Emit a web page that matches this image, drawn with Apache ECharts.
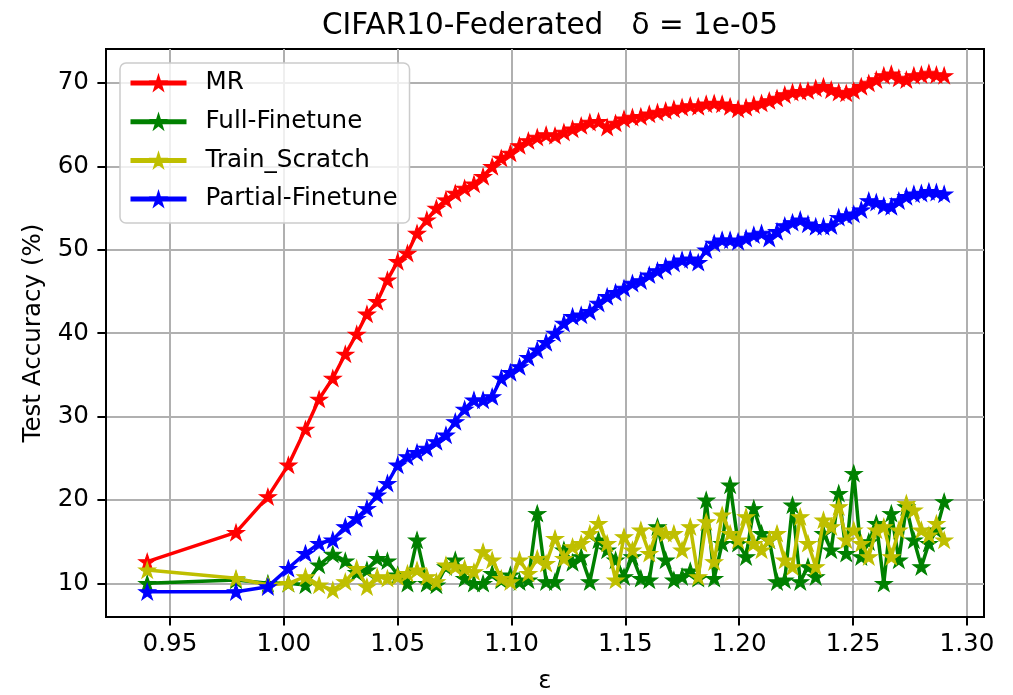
<!DOCTYPE html>
<html>
<head>
<meta charset="utf-8">
<script src="https://cdn.jsdelivr.net/npm/echarts@6/dist/echarts.min.js"></script>
<style>
  html, body { margin: 0; padding: 0; background: #fff; }
  #chart { width: 1013px; height: 695px; }
</style>
</head>
<body>
<div id="chart"></div>
<script>
// epsilon values (x)
const epsValues = [
  0.94, 0.979, 0.993, 1.002, 1.0095, 1.0155, 1.0215, 1.027, 1.032,
  1.0365, 1.041, 1.0455, 1.05,
  1.0543, 1.0585, 1.0628, 1.067, 1.0712, 1.0753, 1.0794, 1.0835, 1.0875, 1.0915, 1.0955, 1.0995,
  1.1035, 1.1074, 1.1113, 1.1152, 1.1191, 1.123, 1.1268, 1.1306, 1.1344, 1.1382, 1.142, 1.1457, 1.1494,
  1.1531, 1.1568, 1.1605, 1.1641, 1.1677, 1.1713, 1.1749, 1.1785, 1.182, 1.1855, 1.189, 1.1925, 1.196, 1.1995,
  1.203, 1.2064, 1.2098, 1.2132, 1.2166, 1.22, 1.2234, 1.2268, 1.2302, 1.2336, 1.237, 1.2404, 1.2437, 1.247,
  1.2503, 1.2536, 1.2569, 1.2602, 1.2635, 1.2668, 1.2701, 1.2734, 1.2767, 1.28, 1.2833, 1.2866, 1.29
];

const mrAcc = [
  12.6, 16.1, 20.4, 24.2, 28.5, 32.1, 34.6, 37.5, 39.9,
  42.3, 43.8, 46.4, 48.6,
  49.6, 52.0, 53.6, 55.0, 56.0, 56.8, 57.4, 57.9, 58.8, 60.0, 61.0, 61.6,
  62.5, 63.1, 63.5, 63.8, 63.7, 64.1, 64.5, 64.9, 65.3, 65.4, 64.7, 65.2, 65.7,
  65.9, 66.0, 66.3, 66.5, 66.7, 66.9, 67.1, 67.3, 67.2, 67.5, 67.6, 67.5, 67.2, 66.9,
  67.1, 67.4, 67.6, 67.9, 68.2, 68.6, 68.9, 69.0, 69.1, 69.4, 69.6, 69.2, 68.9, 68.8,
  69.1, 69.6, 70.0, 70.4, 70.9, 71.1, 70.6, 70.4, 70.9, 71.0, 71.2, 71.0, 70.9
];

const fullFinetuneAcc = [
  10.0, 10.4, 10.0, 10.0, 9.8, 12.2, 13.5, 12.7, 11.3,
  11.6, 13.0, 12.7, 11.0,
  10.0, 15.2, 10.0, 9.8, 12.0, 12.8, 10.6, 10.0, 10.0, 11.2, 10.4, 11.0,
  10.2, 10.4, 18.4, 10.2, 10.2, 14.0, 12.5, 13.2, 10.2, 15.2, 14.0, 12.8, 10.8,
  13.2, 10.6, 10.4, 16.8, 12.8, 10.4, 10.8, 11.5, 10.6, 20.0, 10.6, 14.8, 21.8, 14.8,
  13.2, 19.0, 16.0, 15.2, 10.2, 10.4, 19.4, 10.2, 12.0, 10.8, 16.0, 14.0, 20.8, 13.6,
  23.2, 13.2, 15.0, 17.2, 10.0, 18.4, 12.8, 19.2, 15.2, 12.0, 14.8, 16.4, 19.8
];

const trainScratchAcc = [
  11.6, 10.6, 9.8, 10.0, 10.8, 9.8, 9.2, 10.2, 11.8,
  9.6, 10.8, 10.6, 10.8,
  11.2, 11.6, 10.8, 10.2, 12.2, 12.0, 11.8, 11.4, 13.8, 12.8, 10.6, 10.2,
  12.8, 11.2, 13.0, 12.4, 15.4, 13.0, 14.4, 14.8, 16.0, 17.2, 14.8, 10.4, 15.6,
  14.0, 16.4, 13.6, 16.4, 16.0, 16.0, 14.0, 16.8, 10.8, 17.4, 12.6, 18.2, 16.0, 15.2,
  18.0, 14.8, 14.0, 15.2, 16.0, 12.8, 12.0, 18.0, 14.8, 12.0, 17.6, 16.8, 19.2, 15.2,
  16.4, 14.8, 13.2, 16.4, 16.8, 13.2, 16.4, 19.6, 18.8, 16.4, 15.8, 17.2, 15.2
];

const partialFinetuneAcc = [
  9.0, 9.0, 9.6, 11.8, 13.6, 14.8, 15.2, 16.8, 17.8,
  19.0, 20.6, 22.0, 24.2,
  25.2, 25.7, 26.2, 27.0, 27.8, 29.4, 30.9, 32.0, 32.0, 32.4, 34.6, 35.3,
  36.0, 37.1, 38.0, 38.9, 40.0, 41.2, 42.0, 42.2, 42.6, 43.6, 44.4, 44.9, 45.4,
  46.0, 46.3, 47.0, 47.5, 48.0, 48.4, 48.8, 48.9, 48.5, 50.0, 50.8, 51.2, 51.2, 51.0,
  51.4, 51.8, 52.0, 51.4, 52.2, 52.9, 53.3, 53.6, 53.1, 52.8, 52.8, 52.9, 53.9, 54.1,
  54.3, 54.8, 55.9, 55.7, 55.3, 55.2, 55.9, 56.4, 56.7, 56.8, 57.0, 56.9, 56.7
];

const seriesNames = ['MR', 'Full-Finetune', 'Train_Scratch', 'Partial-Finetune'];
const xTicks = [0.95, 1.00, 1.05, 1.10, 1.15, 1.20, 1.25, 1.30];
const yTicks = [10, 20, 30, 40, 50, 60, 70];

const colors = ['#ff0000', '#008000', '#bfbf00', '#0000ff'];
const starPath = 'path://M100,0L122.45,69.1L195.1,69.1L136.33,111.8L158.78,180.9L100,138.2L41.22,180.9L63.67,111.8L4.9,69.1L77.55,69.1Z';
const font = 'DejaVu Sans';

function pairs(ys) {
  return epsValues.map((x, i) => [x, ys[i]]);
}

const allData = [mrAcc, fullFinetuneAcc, trainScratchAcc, partialFinetuneAcc];

const chart = echarts.init(document.getElementById('chart'), null, { renderer: 'canvas' });

const option = {
  animation: false,
  backgroundColor: '#ffffff',
  color: colors,
  title: {
    text: 'CIFAR10-Federated   δ = 1e-05',
    left: 545,
    textAlign: 'center',
    top: 6,
    textStyle: { fontFamily: font, fontSize: 29.5, fontWeight: 'normal', color: '#000' }
  },
  legend: {
    orient: 'vertical',
    left: 120,
    top: 63,
    padding: [7, 12, 11, 8],
    itemGap: 12.7,
    itemWidth: 56,
    itemHeight: 17,
    backgroundColor: 'rgba(255,255,255,0.8)',
    borderColor: '#cccccc',
    borderWidth: 1.5,
    borderRadius: 6,
    lineStyle: { width: 5 },
    textStyle: { fontFamily: font, fontSize: 24.6, color: '#000', lineHeight: 26, padding: [0, 0, 0, 14] },
    data: seriesNames
  },
  grid: {
    left: 106, right: 29, top: 49, bottom: 78,
    outerBoundsMode: 'none',
    containLabel: false,
    show: true, borderColor: '#000', borderWidth: 2, backgroundColor: 'transparent'
  },
  xAxis: {
    type: 'value',
    min: 0.9219,
    max: 1.3075,
    name: 'ε',
    nameLocation: 'middle',
    nameGap: 52,
    nameTextStyle: { fontFamily: font, fontSize: 24.6, color: '#000' },
    axisLine: { show: true, onZero: false, lineStyle: { color: '#000', width: 2 } },
    axisTick: { show: true, inside: false, length: 8.6, customValues: xTicks, lineStyle: { color: '#000', width: 2 } },
    axisLabel: {
      customValues: xTicks, margin: 15,
      fontFamily: font, fontSize: 24.6, color: '#000',
      formatter: v => v.toFixed(2)
    },
    splitLine: { show: true, lineStyle: { color: '#b0b0b0', width: 2 } }
  },
  yAxis: {
    type: 'value',
    min: 5.96,
    max: 74.08,
    name: 'Test Accuracy (%)',
    nameLocation: 'middle',
    nameGap: 60,
    nameTextStyle: { fontFamily: font, fontSize: 24.6, color: '#000' },
    axisLine: { show: true, lineStyle: { color: '#000', width: 2 } },
    axisTick: { show: true, inside: false, length: 8.6, customValues: yTicks, lineStyle: { color: '#000', width: 2 } },
    axisLabel: { customValues: yTicks, margin: 17, fontFamily: font, fontSize: 24.6, color: '#000' },
    splitLine: { show: true, lineStyle: { color: '#b0b0b0', width: 2 } }
  },
  series: seriesNames.map((name, i) => ({
    name: name,
    type: 'line',
    data: pairs(allData[i]),
    symbol: starPath,
    symbolSize: [17, 16],
    showAllSymbol: true,
    lineStyle: { width: 3.5, color: colors[i] },
    itemStyle: { color: colors[i], borderColor: colors[i], borderWidth: 1 },
    emphasis: { disabled: true },
    z: 2 + i
  }))
};

chart.setOption(option);
</script>
</body>
</html>
